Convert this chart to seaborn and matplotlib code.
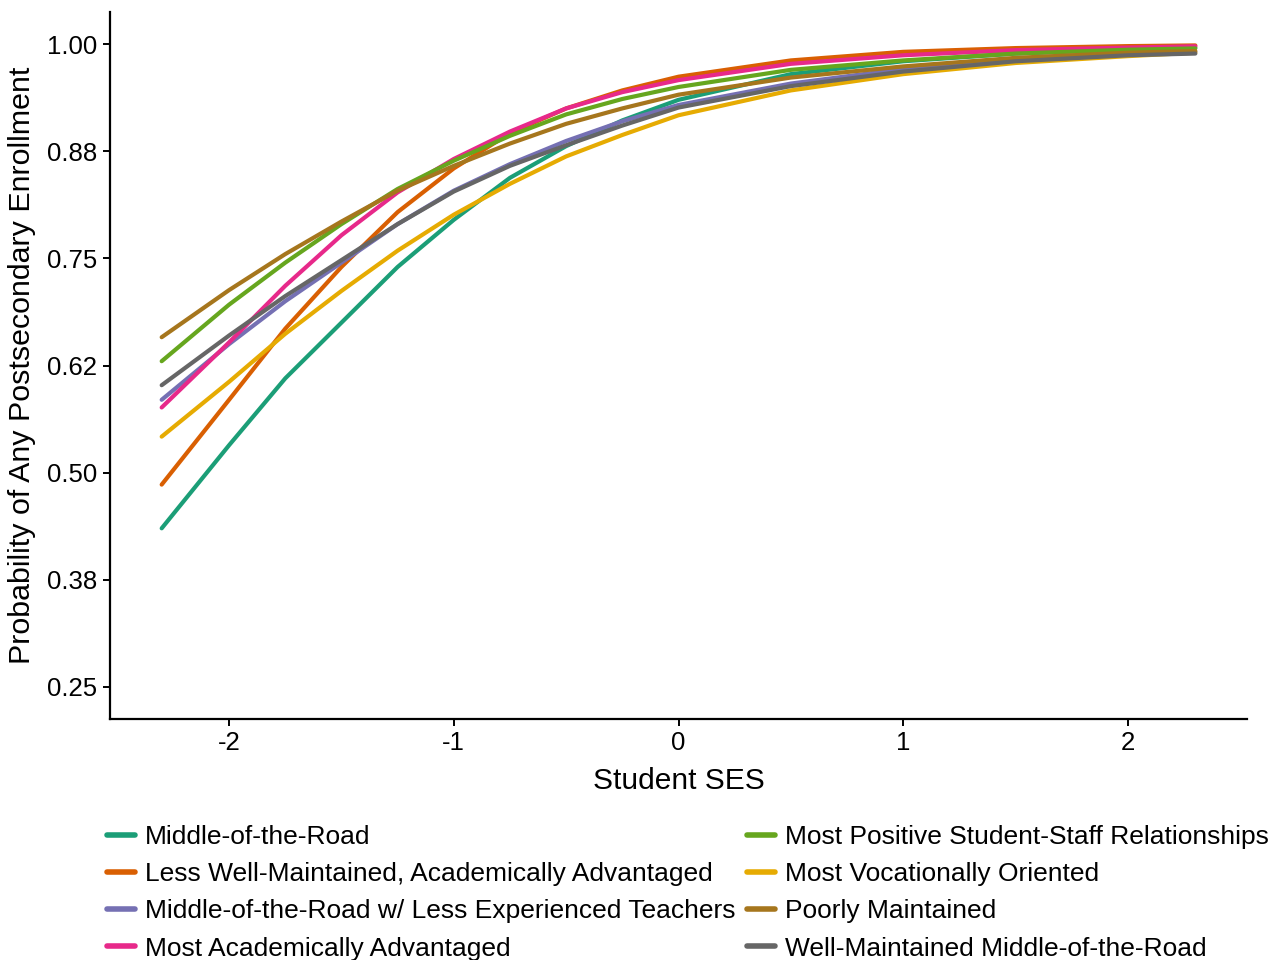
import matplotlib
matplotlib.use('Agg')
import matplotlib.pyplot as plt
import numpy as np
import pandas as pd
import seaborn as sns

# student SES values where the curves were read
ses = [-2.3, -2.0, -1.75, -1.5, -1.25, -1.0, -0.75, -0.5, -0.25, 0.0, 0.5, 1.0, 1.5, 2.0, 2.3]

groups = [
    "Middle-of-the-Road",
    "Less Well-Maintained, Academically Advantaged",
    "Middle-of-the-Road w/ Less Experienced Teachers",
    "Most Academically Advantaged",
    "Most Positive Student-Staff Relationships",
    "Most Vocationally Oriented",
    "Poorly Maintained",
    "Well-Maintained Middle-of-the-Road",
]

middle_road = [0.435, 0.532, 0.610, 0.675, 0.740, 0.795, 0.844, 0.881, 0.911, 0.935, 0.965, 0.980, 0.989, 0.994, 0.996]
less_maintained = [0.486, 0.585, 0.668, 0.740, 0.804, 0.855, 0.896, 0.925, 0.946, 0.962, 0.981, 0.991, 0.9954, 0.9977, 0.9985]
less_experienced = [0.585, 0.650, 0.700, 0.745, 0.790, 0.829, 0.860, 0.887, 0.910, 0.929, 0.954, 0.971, 0.982, 0.989, 0.991]
most_academic = [0.576, 0.652, 0.718, 0.777, 0.827, 0.866, 0.898, 0.925, 0.944, 0.958, 0.977, 0.987, 0.993, 0.996, 0.9975]
most_positive = [0.630, 0.696, 0.745, 0.790, 0.831, 0.864, 0.893, 0.918, 0.936, 0.950, 0.970, 0.981, 0.989, 0.9935, 0.995]
most_vocational = [0.542, 0.606, 0.662, 0.712, 0.759, 0.801, 0.837, 0.869, 0.894, 0.917, 0.946, 0.965, 0.978, 0.986, 0.990]
poorly_maintained = [0.658, 0.713, 0.755, 0.793, 0.829, 0.858, 0.884, 0.907, 0.925, 0.941, 0.961, 0.974, 0.984, 0.990, 0.992]
well_maintained = [0.602, 0.660, 0.706, 0.748, 0.790, 0.828, 0.858, 0.882, 0.905, 0.926, 0.951, 0.968, 0.980, 0.987, 0.989]

series = [middle_road, less_maintained, less_experienced, most_academic,
          most_positive, most_vocational, poorly_maintained, well_maintained]

yticks = [0.25, 0.375, 0.5, 0.625, 0.75, 0.875, 1.0]
ytick_labels = ["0.25", "0.38", "0.50", "0.62", "0.75", "0.88", "1.00"]
xticks = [-2, -1, 0, 1, 2]

df = pd.concat(
    [pd.DataFrame({"SES": ses, "prob": vals, "group": g}) for g, vals in zip(groups, series)],
    ignore_index=True,
)

sns.set_style("white")
plt.rcParams['font.family'] = ['Liberation Sans', 'DejaVu Sans']
plt.rcParams['text.color'] = 'black'
plt.rcParams['axes.labelcolor'] = 'black'

fig = plt.figure(figsize=(12.7, 9.6), dpi=100)
ax = fig.add_axes([110 / 1270, 1 - 719 / 960, (1247 - 110) / 1270, (719 - 12) / 960])

sns.lineplot(data=df, x="SES", y="prob", hue="group", hue_order=groups,
             palette="Dark2", linewidth=3, errorbar=None, ax=ax, legend=False)

ax.set_xlim(-2.53, 2.53)
ax.set_ylim(0.2125, 1.0375)
ax.set_yticks(yticks)
ax.set_yticklabels(ytick_labels)
ax.set_xticks(xticks)
ax.set_xticklabels([str(t) for t in xticks])
ax.tick_params(axis='both', which='both', direction='out', length=5, width=1.4,
               color='black', labelsize=18.5, labelcolor='black', pad=4,
               bottom=True, left=True)

ax.spines['top'].set_visible(False)
ax.spines['right'].set_visible(False)
for side in ['left', 'bottom']:
    ax.spines[side].set_color('black')
    ax.spines[side].set_linewidth(1.6)

ax.set_xlabel("Student SES", fontsize=21.5, labelpad=8)
ax.set_ylabel("Probability of Any Postsecondary Enrollment", fontsize=21.9, labelpad=8)

# legend sits below the plot, second column runs to the right edge as in the original
colors = sns.color_palette("Dark2", len(groups))
handles = [plt.Line2D([], [], color=c, linewidth=4) for c in colors]
fig.legend(handles, groups, loc='upper left', bbox_to_anchor=(107 / 1270, 1 - 825 / 960),
           ncol=2, frameon=False, fontsize=19, handlelength=1.05, handletextpad=0.38,
           columnspacing=0.45, labelspacing=0.5, borderpad=0, borderaxespad=0)

plt.savefig("out.png", dpi=100)
